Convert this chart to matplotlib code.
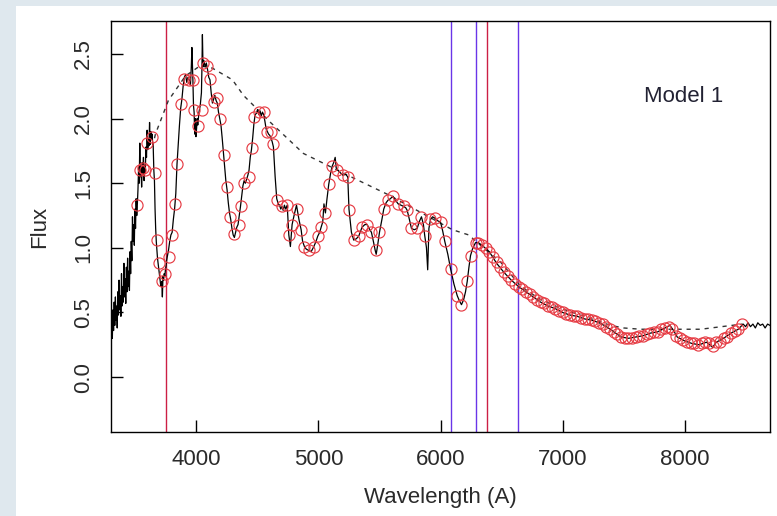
import numpy as np
import matplotlib
matplotlib.use('Agg')
import matplotlib.pyplot as plt
from matplotlib.patches import Rectangle

plt.rcParams['font.family'] = ['Liberation Sans', 'DejaVu Sans']

# observed spectrum (black line)
spec_wave = [3295, 3300, 3306, 3311, 3316, 3321, 3326, 3331, 3336, 3341, 3346, 3351, 3356, 3361,
             3366, 3371, 3376, 3381, 3386, 3391, 3396, 3401, 3406, 3411, 3416, 3421, 3426, 3431,
             3436, 3441, 3446, 3451, 3456, 3461, 3466, 3471, 3476, 3481, 3486, 3491, 3496, 3501,
             3506, 3511, 3516, 3521, 3526, 3531, 3536, 3541, 3546, 3551, 3556, 3561, 3566, 3571,
             3576, 3581, 3586, 3591, 3596, 3601, 3606, 3611, 3616, 3621, 3626, 3631, 3636, 3641,
             3646, 3651, 3656, 3661, 3666, 3671, 3676, 3681, 3686, 3691, 3696, 3701, 3706, 3711,
             3716, 3721, 3726, 3731, 3736, 3741, 3746, 3751, 3756, 3761, 3771, 3781, 3791, 3801,
             3811, 3821, 3831, 3841, 3851, 3861, 3871, 3881, 3891, 3901, 3911, 3921, 3931, 3941,
             3951, 3958, 3963, 3971, 3976, 3981, 3986, 3991, 3996, 4001, 4006, 4011, 4021, 4031,
             4041, 4045, 4049, 4054, 4061, 4071, 4081, 4091, 4101, 4111, 4121, 4131, 4141, 4151,
             4161, 4171, 4181, 4191, 4201, 4211, 4221, 4231, 4241, 4251, 4261, 4271, 4281, 4291,
             4301, 4311, 4321, 4331, 4341, 4351, 4361, 4371, 4381, 4391, 4401, 4411, 4421, 4431,
             4441, 4451, 4461, 4471, 4481, 4491, 4501, 4511, 4521, 4531, 4541, 4551, 4561, 4571,
             4581, 4591, 4601, 4611, 4621, 4631, 4645, 4658, 4671, 4681, 4691, 4701, 4711, 4721,
             4731, 4744, 4757, 4770, 4784, 4800, 4820, 4840, 4858, 4870, 4885, 4900, 4921, 4940,
             4962, 4980, 4994, 5010, 5022, 5035, 5045, 5057, 5070, 5084, 5100, 5112, 5125, 5137,
             5145, 5160, 5180, 5202, 5220, 5240, 5250, 5270, 5289, 5310, 5330, 5345, 5358, 5380,
             5399, 5415, 5434, 5450, 5465, 5473, 5485, 5500, 5520, 5535, 5555, 5571, 5590, 5609,
             5630, 5653, 5675, 5699, 5715, 5727, 5745, 5762, 5785, 5809, 5825, 5844, 5860, 5870,
             5885, 5895, 5905, 5918, 5935, 5953, 5975, 6000, 6018, 6035, 6060, 6082, 6110, 6137,
             6155, 6172, 6190, 6205, 6219, 6233, 6246, 6265, 6287, 6310, 6340, 6400, 6460, 6520,
             6580, 6640, 6700, 6760, 6820, 6880, 6940, 7000, 7060, 7120, 7180, 7240, 7300, 7360,
             7420, 7480, 7540, 7600, 7660, 7720, 7780, 7840, 7880, 7910, 7940, 8000, 8060, 8120,
             8180, 8230, 8260, 8320, 8380, 8440, 8480, 8500, 8520, 8540, 8560, 8580, 8600, 8620,
             8640, 8660, 8680, 8700, 8720]
spec_flux = [0.40, 0.33, 0.45, 0.30, 0.52, 0.36, 0.58, 0.40, 0.62, 0.44, 0.55, 0.38, 0.66, 0.48,
             0.75, 0.52, 0.63, 0.47, 0.80, 0.55, 0.70, 0.58, 0.88, 0.62, 0.76, 0.57, 0.85, 0.66,
             0.92, 0.70, 0.82, 0.67, 0.97, 0.80, 1.05, 0.90, 1.24, 1.05, 1.18, 1.02, 1.30, 1.15,
             1.38, 1.25, 1.34, 1.45, 1.62, 1.50, 1.81, 1.55, 1.62, 1.47, 1.66, 1.58, 1.70, 1.52,
             1.64, 1.58, 1.78, 1.70, 1.91, 1.76, 1.84, 1.79, 1.97, 1.80, 1.90, 1.84, 1.88, 1.82,
             1.78, 1.60, 1.52, 1.30, 1.15, 1.05, 0.98, 0.92, 0.88, 0.84, 0.80, 0.76, 0.72, 0.70,
             0.74, 0.62, 0.78, 0.75, 0.80, 0.78, 0.83, 0.86, 0.90, 0.93, 0.98, 1.05, 1.10, 1.12,
             1.22, 1.30, 1.42, 1.65, 1.80, 1.95, 2.08, 2.15, 2.25, 2.32, 2.34, 2.28, 2.32, 2.30,
             2.26, 2.40, 2.55, 2.30, 2.10, 2.05, 1.88, 2.00, 1.86, 1.92, 2.00, 1.95, 2.05, 2.10,
             2.20, 2.38, 2.65, 2.40, 2.45, 2.40, 2.43, 2.38, 2.32, 2.30, 2.20, 2.12, 2.15, 2.18,
             2.14, 2.12, 2.05, 2.00, 1.95, 1.85, 1.74, 1.62, 1.52, 1.45, 1.35, 1.27, 1.22, 1.15,
             1.10, 1.08, 1.12, 1.16, 1.18, 1.25, 1.32, 1.40, 1.48, 1.52, 1.50, 1.53, 1.56, 1.60,
             1.70, 1.76, 1.85, 1.96, 2.03, 2.04, 2.07, 2.03, 2.06, 2.02, 2.05, 2.03, 1.98, 1.92,
             1.90, 1.88, 1.87, 1.85, 1.82, 1.78, 1.55, 1.38, 1.34, 1.33, 1.30, 1.32, 1.29, 1.33,
             1.30, 1.33, 1.10, 1.01, 1.18, 1.25, 1.33, 1.22, 1.14, 1.05, 1.01, 0.99, 0.98, 0.97,
             1.01, 1.05, 1.09, 1.12, 1.16, 1.20, 1.34, 1.27, 1.38, 1.49, 1.58, 1.63, 1.66, 1.70,
             1.62, 1.60, 1.58, 1.56, 1.57, 1.55, 1.30, 1.12, 1.06, 1.07, 1.09, 1.13, 1.16, 1.18,
             1.18, 1.15, 1.12, 1.05, 0.98, 0.95, 1.02, 1.12, 1.22, 1.30, 1.35, 1.37, 1.38, 1.40,
             1.37, 1.34, 1.33, 1.32, 1.31, 1.29, 1.22, 1.15, 1.14, 1.15, 1.20, 1.24, 1.18, 1.10,
             1.00, 0.83, 1.15, 1.22, 1.24, 1.23, 1.21, 1.20, 1.13, 1.05, 0.95, 0.84, 0.72, 0.63,
             0.59, 0.56, 0.60, 0.66, 0.74, 0.85, 0.94, 1.00, 1.04, 1.04, 1.02, 0.97, 0.88, 0.81,
             0.75, 0.70, 0.66, 0.62, 0.58, 0.55, 0.53, 0.50, 0.48, 0.47, 0.45, 0.44, 0.42, 0.39,
             0.35, 0.31, 0.30, 0.31, 0.32, 0.34, 0.35, 0.38, 0.40, 0.36, 0.31, 0.28, 0.26, 0.25,
             0.27, 0.23, 0.27, 0.30, 0.34, 0.37, 0.41, 0.39, 0.42, 0.39, 0.41, 0.38, 0.42, 0.40,
             0.41, 0.38, 0.41, 0.40, 0.39]

# fitted points (red circles)
fit_wave = [3514, 3541, 3560, 3582, 3596, 3637, 3658, 3678, 3691, 3719, 3746, 3773, 3801, 3828,
            3842, 3877, 3902, 3937, 3970, 3978, 4014, 4047, 4055, 4088, 4115, 4142, 4170, 4197,
            4224, 4252, 4279, 4306, 4347, 4366, 4388, 4429, 4457, 4475, 4511, 4552, 4580, 4607,
            4629, 4662, 4703, 4744, 4757, 4784, 4825, 4858, 4885, 4921, 4962, 4994, 5022, 5057,
            5084, 5112, 5153, 5202, 5240, 5250, 5289, 5330, 5358, 5399, 5434, 5473, 5500, 5535,
            5571, 5609, 5653, 5699, 5727, 5762, 5809, 5844, 5877, 5918, 5953, 6000, 6035, 6082,
            6137, 6172, 6219, 6246, 6287, 6310, 6340, 6370, 6400, 6430, 6460, 6490, 6520, 6550,
            6580, 6610, 6640, 6670, 6700, 6730, 6760, 6790, 6820, 6850, 6880, 6910, 6940, 6970,
            7000, 7030, 7060, 7090, 7120, 7150, 7180, 7210, 7240, 7270, 7300, 7330, 7360, 7390,
            7420, 7450, 7480, 7510, 7540, 7570, 7600, 7630, 7660, 7690, 7720, 7750, 7780, 7810,
            7840, 7870, 7900, 7930, 7960, 7990, 8020, 8050, 8080, 8110, 8140, 8170, 8200, 8230,
            8260, 8290, 8320, 8350, 8380, 8410, 8440, 8470]
fit_flux = [1.33, 1.60, 1.62, 1.60, 1.81, 1.86, 1.58, 1.06, 0.88, 0.74, 0.80, 0.93, 1.10, 1.34,
            1.65, 2.11, 2.31, 2.30, 2.30, 2.07, 1.94, 2.07, 2.43, 2.41, 2.31, 2.13, 2.16, 2.00,
            1.72, 1.47, 1.24, 1.11, 1.18, 1.32, 1.50, 1.55, 1.77, 2.01, 2.05, 2.05, 1.90, 1.90,
            1.80, 1.37, 1.32, 1.33, 1.10, 1.18, 1.30, 1.14, 1.01, 0.98, 1.01, 1.09, 1.16, 1.27,
            1.49, 1.63, 1.60, 1.56, 1.55, 1.29, 1.06, 1.09, 1.16, 1.18, 1.12, 0.98, 1.12, 1.30,
            1.37, 1.40, 1.34, 1.32, 1.29, 1.15, 1.15, 1.24, 1.09, 1.22, 1.23, 1.20, 1.05, 0.84,
            0.63, 0.56, 0.74, 0.94, 1.04, 1.04, 1.02, 1.00, 0.97, 0.93, 0.89, 0.85, 0.81, 0.78,
            0.75, 0.72, 0.70, 0.68, 0.66, 0.64, 0.62, 0.60, 0.58, 0.57, 0.55, 0.54, 0.53, 0.51,
            0.50, 0.49, 0.48, 0.47, 0.47, 0.46, 0.45, 0.45, 0.44, 0.43, 0.42, 0.41, 0.39, 0.37,
            0.35, 0.33, 0.31, 0.30, 0.30, 0.30, 0.31, 0.32, 0.32, 0.33, 0.34, 0.35, 0.35, 0.37,
            0.38, 0.39, 0.37, 0.32, 0.30, 0.29, 0.27, 0.26, 0.26, 0.25, 0.26, 0.27, 0.26, 0.24,
            0.27, 0.27, 0.30, 0.31, 0.34, 0.36, 0.37, 0.41]

# continuum (dashed)
cont_wave = [3640, 3664, 3770, 3910, 4033, 4131, 4295, 4385, 4607, 4877, 5287, 5574, 6098, 6230,
             6328, 6492, 6660, 6820, 6990, 7148, 7300, 7394, 7500, 7640, 8131, 8475]
cont_flux = [1.78, 1.88, 2.14, 2.33, 2.41, 2.39, 2.30, 2.18, 1.97, 1.73, 1.54, 1.41, 1.14, 1.10,
             1.02, 0.89, 0.70, 0.60, 0.53, 0.48, 0.43, 0.40, 0.38, 0.37, 0.37, 0.41]

red_lines = [3754, 6380]
blue_lines = [6088, 6292, 6634]

fig = plt.figure(figsize=(7.77, 5.16), dpi=100, facecolor='#dfe8ee')
panel = Rectangle((16 / 777, 0), 1 - 16 / 777, 1 - 6 / 516,
                  transform=fig.transFigure, facecolor='white', edgecolor='none')
fig.add_artist(panel)
panel.set_zorder(-10)
ax = fig.add_axes([111 / 777, 84 / 516, 659 / 777, 411 / 516])
ax.set_facecolor('white')

ax.plot(spec_wave, spec_flux, color='black', lw=0.9, zorder=3)
ax.plot(cont_wave, cont_flux, color='#333333', lw=1.0, dashes=(3, 3.5), zorder=2)
ax.plot(fit_wave, fit_flux, 'o', ms=8, mfc='none', mec='#e63c44', mew=0.85, zorder=4)

for w in red_lines:
    ax.axvline(w, color='#cc1f45', lw=1.0, zorder=1)
for w in blue_lines:
    ax.axvline(w, color='#6a35e8', lw=1.0, zorder=1)

ax.text(7990, 2.17, 'Model 1', ha='center', va='center', fontsize=16, color='#222233')

ax.set_xlim(3300, 8700)
ax.set_ylim(-0.425, 2.755)
ax.set_xticks([4000, 5000, 6000, 7000, 8000])
ax.set_yticks([0.0, 0.5, 1.0, 1.5, 2.0, 2.5])
ax.set_yticklabels(['0.0', '0.5', '1.0', '1.5', '2.0', '2.5'])
ax.tick_params(direction='in', length=8.5, width=1, labelsize=16, labelcolor='#2a2a2a')
ax.tick_params(axis='x', pad=12)
ax.tick_params(axis='y', pad=12, labelrotation=90)
for lab in ax.get_yticklabels():
    lab.set_va('center')
for s in ax.spines.values():
    s.set_linewidth(1.0)

fig.text(40 / 777, 1 - 227 / 516, 'Flux', rotation=90, ha='center', va='center',
         fontsize=16, color='#2a2a2a')
fig.text(440 / 777, 1 - 498 / 516, 'Wavelength (A)', ha='center', va='center',
         fontsize=16, color='#2a2a2a')

fig.savefig('out.png', dpi=100, facecolor=fig.get_facecolor())
